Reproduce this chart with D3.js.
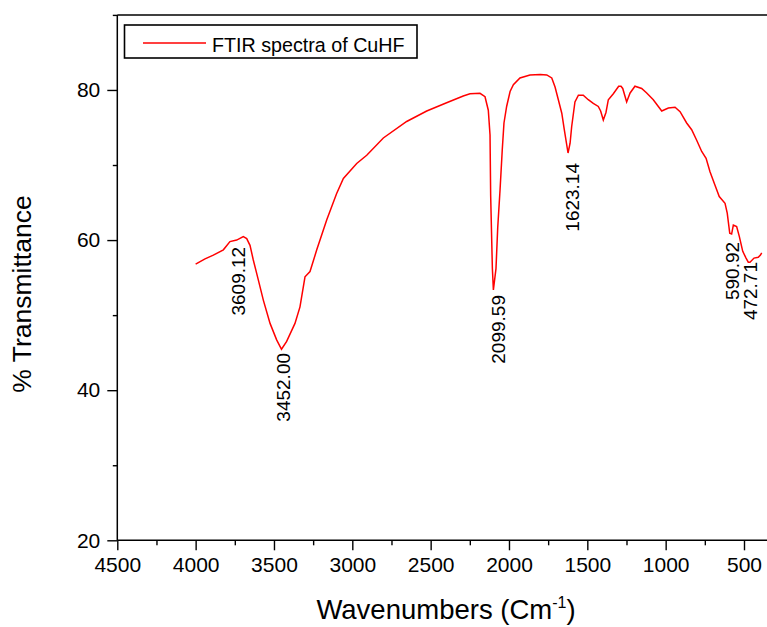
<!DOCTYPE html>
<html>
<head>
<meta charset="utf-8">
<script src="https://cdn.jsdelivr.net/npm/d3@7"></script>
<style>
  html, body { margin: 0; padding: 0; background: #fff; }
  svg { display: block; }
  text { font-family: "Liberation Sans", Arial, sans-serif; fill: #000; }
</style>
</head>
<body>
<svg id="chart" width="767" height="627"></svg>
<script>
// ---- data ----
const wavenumber = [4000, 3940, 3887, 3823, 3781, 3738, 3696, 3674, 3653, 3632, 3600, 3568, 3525, 3483, 3452, 3419, 3366, 3334, 3302, 3270, 3227, 3163, 3100, 3057, 2972, 2908, 2802, 2653, 2525, 2398, 2292, 2249, 2185, 2153, 2132, 2121, 2117, 2106, 2099.59, 2083, 2072, 2057, 2043, 2032, 2015, 1993, 1972, 1930, 1866, 1800, 1759, 1727, 1706, 1685, 1663, 1647, 1623.14, 1610, 1600, 1579, 1557, 1526, 1494, 1462, 1430, 1415, 1398, 1381, 1366, 1334, 1300, 1285, 1274, 1249, 1227, 1196, 1153, 1121, 1079, 1025, 983, 940, 908, 866, 834, 802, 770, 742, 717, 685, 658, 621, 607, 590.92, 579, 568, 547, 530, 508, 487, 472.71, 462, 436, 409, 395, 387];
const transmittance = [56.8, 57.5, 58.0, 58.7, 59.8, 60.0, 60.45, 60.2, 59.3, 57.35, 54.7, 52.0, 48.9, 46.7, 45.45, 46.5, 48.9, 51.1, 55.1, 55.8, 58.7, 62.7, 66.2, 68.2, 70.2, 71.3, 73.6, 75.8, 77.2, 78.3, 79.2, 79.5, 79.55, 79.1, 77.3, 74.0, 66.0, 56.2, 53.35, 56.2, 61.6, 66.7, 72.0, 75.6, 77.8, 79.8, 80.7, 81.6, 82.0, 82.05, 82.0, 81.6, 80.4, 78.7, 76.9, 74.7, 71.6, 72.9, 75.1, 78.4, 79.3, 79.3, 78.7, 78.2, 77.8, 77.2, 76.0, 77.0, 78.7, 79.5, 80.5, 80.5, 80.2, 78.4, 79.6, 80.5, 80.2, 79.6, 78.7, 77.2, 77.6, 77.7, 77.1, 75.6, 74.7, 73.3, 71.8, 70.9, 69.1, 67.3, 65.8, 64.9, 63.6, 60.9, 60.8, 62.0, 61.8, 60.5, 58.5, 57.6, 57.05, 57.05, 57.6, 57.7, 58.0, 58.3];

const peakLabels = ["3609.12", "3452.00", "2099.59", "1623.14", "590.92", "472.71"];
const peakLabelWn = [3685, 3398, 2025, 1553, 532, 417];
const peakLabelT = [59.1, 44.96, 52.68, 70.27, 59.75, 57.08];

const xMajorTicks = [4500, 4000, 3500, 3000, 2500, 2000, 1500, 1000, 500];
const xMinorTicks = [4250, 3750, 3250, 2750, 2250, 1750, 1250, 750];
const yMajorTicks = [20, 40, 60, 80];
const yMinorTicks = [30, 50, 70, 90];

const seriesName = "FTIR spectra of CuHF";
const xTitle = "Wavenumbers (Cm";
const xTitleSup = "-1";
const yTitle = "% Transmittance";

// ---- layout ----
const svg = d3.select("#chart");
const mLeft = 117.3, mRight = 767.5, mTop = 14.9, mBottom = 540.3;

const x = d3.scaleLinear().domain([4500, 350]).range([mLeft, mRight]);
const y = d3.scaleLinear().domain([20, 90]).range([mBottom, mTop]);

// axes
const axisColor = "#000";
const xAxisMajor = d3.axisBottom(x).tickValues(xMajorTicks).tickSize(10).tickPadding(7).tickFormat(d3.format("d"));
const xAxisMinor = d3.axisBottom(x).tickValues(xMinorTicks).tickSize(5).tickFormat("");
const yAxisMajor = d3.axisLeft(y).tickValues(yMajorTicks).tickSize(10).tickPadding(7).tickFormat(d3.format("d"));
const yAxisMinor = d3.axisLeft(y).tickValues(yMinorTicks).tickSize(4.5).tickFormat("");

function styleAxis(g) {
  g.select(".domain").remove();
  g.selectAll("line").attr("stroke", axisColor).attr("stroke-width", 1.4);
  g.selectAll("text").attr("font-size", 21).attr("fill", "#000")
    .attr("font-family", "'Liberation Sans', Arial, sans-serif");
}

svg.append("g").attr("transform", `translate(0,${mBottom})`).call(xAxisMajor).call(styleAxis);
svg.append("g").attr("transform", `translate(0,${mBottom})`).call(xAxisMinor).call(styleAxis);
svg.append("g").attr("transform", `translate(${mLeft},0)`).call(yAxisMajor).call(styleAxis);
svg.append("g").attr("transform", `translate(${mLeft},0)`).call(yAxisMinor).call(styleAxis);

// frame lines (left, bottom, top)
svg.append("line").attr("x1", mLeft).attr("x2", mLeft).attr("y1", mTop).attr("y2", mBottom)
  .attr("stroke", axisColor).attr("stroke-width", 1.5);
svg.append("line").attr("x1", mLeft).attr("x2", mRight).attr("y1", mBottom).attr("y2", mBottom)
  .attr("stroke", axisColor).attr("stroke-width", 1.5);
svg.append("line").attr("x1", mLeft).attr("x2", mRight).attr("y1", mTop).attr("y2", mTop)
  .attr("stroke", axisColor).attr("stroke-width", 1.5);

// spectrum line
const pts = wavenumber.map((w, i) => [w, transmittance[i]]);
const line = d3.line().x(d => x(d[0])).y(d => y(d[1]));
svg.append("path").datum(pts).attr("d", line)
  .attr("fill", "none").attr("stroke", "#ff0000").attr("stroke-width", 1.5)
  .attr("stroke-linejoin", "miter");

// peak labels (rotated)
peakLabels.forEach((lab, i) => {
  const px = x(peakLabelWn[i]), py = y(peakLabelT[i]);
  svg.append("text")
    .attr("transform", `translate(${px},${py}) rotate(-90)`)
    .attr("text-anchor", "end")
    .attr("font-size", 19)
    .text(lab);
});

// legend
const lg = svg.append("g");
lg.append("rect").attr("x", 124.5).attr("y", 25).attr("width", 292.5).attr("height", 33)
  .attr("fill", "#fff").attr("stroke", "#000").attr("stroke-width", 1.6);
lg.append("line").attr("x1", 143).attr("x2", 206).attr("y1", 43).attr("y2", 43)
  .attr("stroke", "#ff0000").attr("stroke-width", 1.5);
lg.append("text").attr("x", 212).attr("y", 51.5).attr("font-size", 19.7).text(seriesName);

// axis titles
svg.append("text")
  .attr("transform", `translate(31,294) rotate(-90)`)
  .attr("text-anchor", "middle")
  .attr("font-size", 26.5)
  .text(yTitle);

const xt = svg.append("text")
  .attr("x", 446).attr("y", 619)
  .attr("text-anchor", "middle")
  .attr("font-size", 27.5);
xt.append("tspan").text(xTitle);
xt.append("tspan").attr("font-size", 16).attr("dy", -11).text(xTitleSup);
xt.append("tspan").attr("dy", 11).text(")");
</script>
</body>
</html>
